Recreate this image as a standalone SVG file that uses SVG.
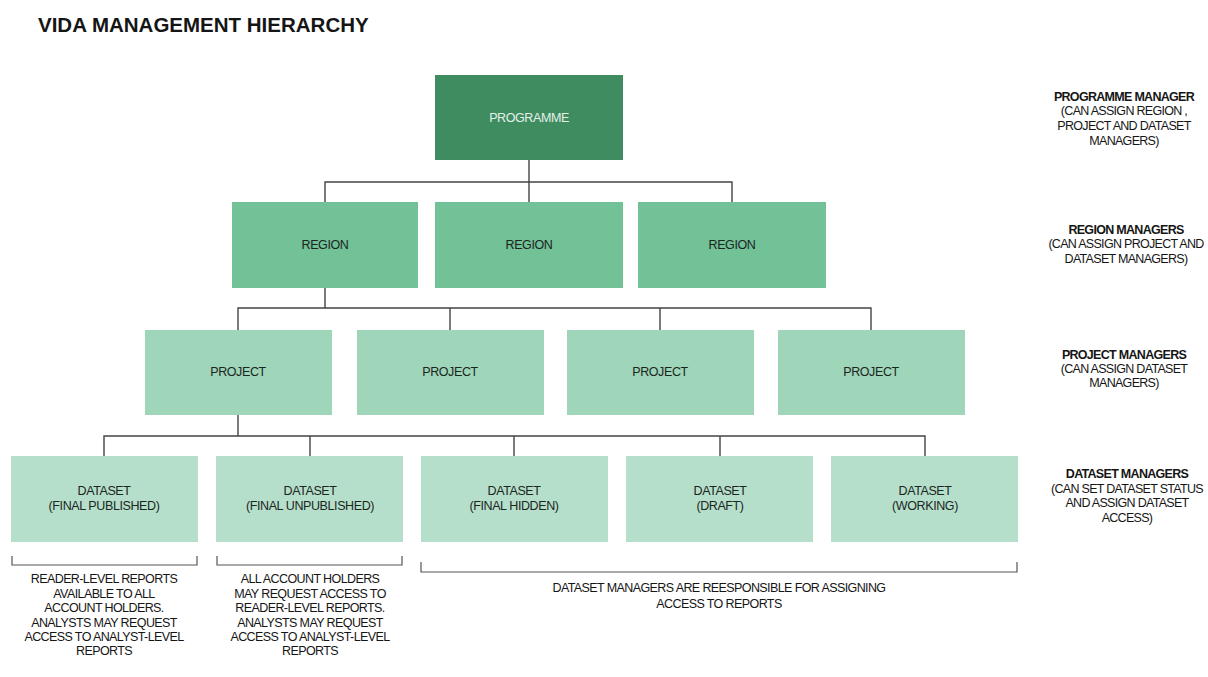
<svg xmlns="http://www.w3.org/2000/svg" width="1208" height="677" viewBox="0 0 1208 677">
  <style>
    .title { font-family: "Liberation Sans", Arial, sans-serif; font-weight: bold; font-size: 20.5px; fill: #151515; }
    .lbl { font-family: "Liberation Sans", Arial, sans-serif; font-size: 12.5px; fill: #151515; text-anchor: middle; letter-spacing: -0.6px; }
    .node { font-family: "Liberation Sans", Arial, sans-serif; font-size: 12.5px; fill: #1b261e; text-anchor: middle; letter-spacing: -0.4px; }
    .side { font-family: "Liberation Sans", Arial, sans-serif; font-size: 12.5px; fill: #151515; text-anchor: middle; letter-spacing: -0.7px; }
    .side .b { font-weight: bold; }
    .prog { fill: #3e8c60; }
    .reg { fill: #72c197; }
    .proj { fill: #9fd5b9; }
    .ds { fill: #b5dfca; }
    .conn { fill: none; stroke: #444; stroke-width: 1.4; }
    .brk { fill: none; stroke: #555; stroke-width: 1.2; }
  </style>

  <rect width="1208" height="677" fill="#ffffff"/>

  <text class="title" x="38" y="32">VIDA MANAGEMENT HIERARCHY</text>

  <!-- connectors -->
  <g id="connectors" class="conn">
    <path d="M529 160 V182 M325 202 V182 H732 V202 M529 182 V202"/>
    <path d="M325 288 V308 M238 330 V308 H871 V330 M450 308 V330 M660 308 V330"/>
    <path d="M238 415 V436 M104 456 V436 H925 V456 M310 436 V456 M514 436 V456 M720 436 V456"/>
  </g>

  <!-- programme -->
  <g id="programme">
    <rect class="prog" x="435" y="75" width="188" height="85"/>
    <text class="node" x="529" y="122" style="fill:#e6f1ea">PROGRAMME</text>
  </g>

  <!-- regions -->
  <g id="region-1">
    <rect class="reg" x="232" y="202" width="186" height="86"/>
    <text class="node" x="325" y="249">REGION</text>
  </g>
  <g id="region-2">
    <rect class="reg" x="435" y="202" width="188" height="86"/>
    <text class="node" x="529" y="249">REGION</text>
  </g>
  <g id="region-3">
    <rect class="reg" x="638" y="202" width="188" height="86"/>
    <text class="node" x="732" y="249">REGION</text>
  </g>

  <!-- projects -->
  <g id="project-1">
    <rect class="proj" x="145" y="330" width="187" height="85"/>
    <text class="node" x="238" y="376">PROJECT</text>
  </g>
  <g id="project-2">
    <rect class="proj" x="357" y="330" width="187" height="85"/>
    <text class="node" x="450" y="376">PROJECT</text>
  </g>
  <g id="project-3">
    <rect class="proj" x="567" y="330" width="187" height="85"/>
    <text class="node" x="660" y="376">PROJECT</text>
  </g>
  <g id="project-4">
    <rect class="proj" x="778" y="330" width="187" height="85"/>
    <text class="node" x="871" y="376">PROJECT</text>
  </g>

  <!-- datasets -->
  <g id="dataset-final-published">
    <rect class="ds" x="11" y="456" width="187" height="86"/>
    <text class="node" x="104" y="495">DATASET</text>
    <text class="node" x="104" y="510">(FINAL PUBLISHED)</text>
  </g>
  <g id="dataset-final-unpublished">
    <rect class="ds" x="216" y="456" width="187" height="86"/>
    <text class="node" x="310" y="495">DATASET</text>
    <text class="node" x="310" y="510">(FINAL UNPUBLISHED)</text>
  </g>
  <g id="dataset-final-hidden">
    <rect class="ds" x="421" y="456" width="187" height="86"/>
    <text class="node" x="514" y="495">DATASET</text>
    <text class="node" x="514" y="510">(FINAL HIDDEN)</text>
  </g>
  <g id="dataset-draft">
    <rect class="ds" x="626" y="456" width="187" height="86"/>
    <text class="node" x="720" y="495">DATASET</text>
    <text class="node" x="720" y="510">(DRAFT)</text>
  </g>
  <g id="dataset-working">
    <rect class="ds" x="831" y="456" width="187" height="86"/>
    <text class="node" x="925" y="495">DATASET</text>
    <text class="node" x="925" y="510">(WORKING)</text>
  </g>

  <!-- brackets under datasets -->
  <g id="brackets" class="brk">
    <path d="M12 556 V565 H197 V556"/>
    <path d="M217 556 V565 H402 V556"/>
    <path d="M421 562 V572 H1017 V562"/>
  </g>

  <!-- access notes -->
  <g id="note-published" class="lbl">
    <text x="104" y="583">READER-LEVEL REPORTS</text>
    <text x="104" y="598">AVAILABLE TO ALL</text>
    <text x="104" y="612">ACCOUNT HOLDERS.</text>
    <text x="104" y="627">ANALYSTS MAY  REQUEST</text>
    <text x="104" y="641">ACCESS TO ANALYST-LEVEL</text>
    <text x="104" y="655">REPORTS</text>
  </g>
  <g id="note-unpublished" class="lbl">
    <text x="310" y="583">ALL ACCOUNT HOLDERS</text>
    <text x="310" y="598">MAY REQUEST ACCESS TO</text>
    <text x="310" y="612">READER-LEVEL REPORTS.</text>
    <text x="310" y="627">ANALYSTS MAY REQUEST</text>
    <text x="310" y="641">ACCESS TO ANALYST-LEVEL</text>
    <text x="310" y="655">REPORTS</text>
  </g>
  <g id="note-managed" class="lbl">
    <text x="719" y="592">DATASET MANAGERS ARE REESPONSIBLE FOR ASSIGNING</text>
    <text x="719" y="608">ACCESS TO REPORTS</text>
  </g>

  <!-- role descriptions -->
  <g id="role-programme" class="side">
    <text class="b" x="1124" y="101">PROGRAMME MANAGER</text>
    <text x="1124" y="115">(CAN ASSIGN REGION ,</text>
    <text x="1124" y="130">PROJECT AND DATASET</text>
    <text x="1124" y="145">MANAGERS)</text>
  </g>
  <g id="role-region" class="side">
    <text class="b" x="1126" y="234">REGION MANAGERS</text>
    <text x="1126" y="248">(CAN ASSIGN PROJECT AND</text>
    <text x="1126" y="263">DATASET MANAGERS)</text>
  </g>
  <g id="role-project" class="side">
    <text class="b" x="1124" y="359">PROJECT MANAGERS</text>
    <text x="1124" y="373">(CAN ASSIGN DATASET</text>
    <text x="1124" y="387">MANAGERS)</text>
  </g>
  <g id="role-dataset" class="side">
    <text class="b" x="1127" y="478">DATASET MANAGERS</text>
    <text x="1127" y="493">(CAN SET DATASET STATUS</text>
    <text x="1127" y="507">AND ASSIGN DATASET</text>
    <text x="1127" y="522">ACCESS)</text>
  </g>
</svg>
